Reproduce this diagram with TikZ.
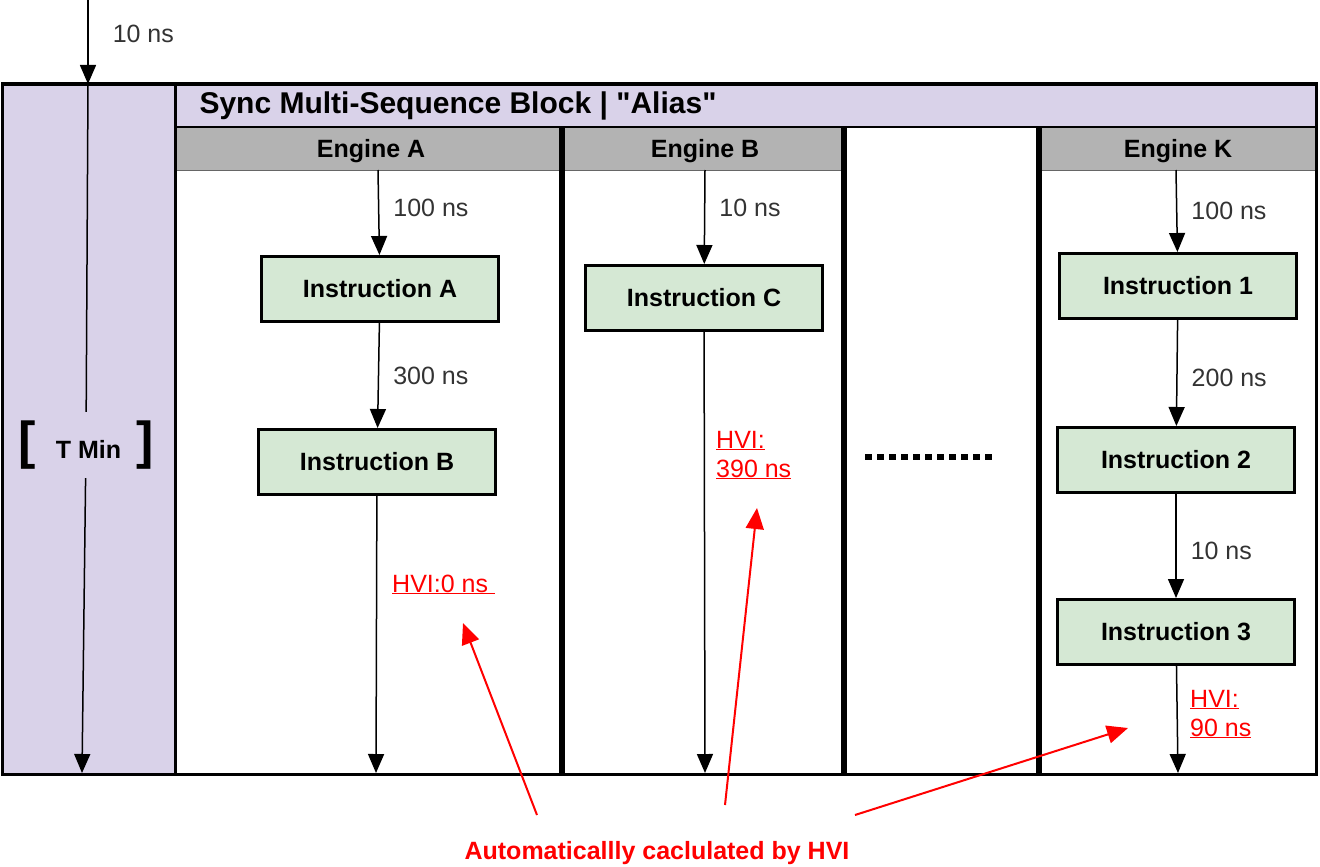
\documentclass[tikz,border=0pt]{standalone}
\usepackage{fontspec}
\setmainfont{Liberation Sans}[Ligatures=TeXOff]
\usetikzlibrary{arrows.meta, positioning}
\definecolor{aliaspurple}{HTML}{D9D2E9}
\definecolor{enginegray}{HTML}{B3B3B3}
\definecolor{instrgreen}{HTML}{D5E8D4}
\definecolor{hvired}{HTML}{FF0000}
\tikzset{
    >={Triangle[length=19pt,width=16pt]},
    every node/.style={font=\fontsize{25}{30}\selectfont},
    instr/.style={draw, line width=3pt, fill=instrgreen, minimum width=237pt, minimum height=65pt, font=\bfseries\fontsize{25}{30}\selectfont},
    engine/.style={font=\bfseries\fontsize{25}{30}\selectfont},
    header/.style={fill=enginegray, draw=black!60, line width=1pt},
    delay/.style={right=14pt, inner sep=0pt, text=black!80},
    hvi/.style={anchor=base west, align=left, inner sep=0pt, text=hvired, font=\fontsize{25}{29}\selectfont},
    flow/.style={->, line width=1.5pt},
    note/.style={-{Triangle[length=21pt,width=18pt]}, draw=hvired, line width=2pt},
    separator/.style={line width=6pt},
}

\begin{document}
\begin{tikzpicture}[x=1pt, y=-1pt]
    \useasboundingbox (0,0) rectangle (1320,867);

    % block frame
    \fill[aliaspurple] (2,84) rectangle (175,774);
    \fill[aliaspurple] (175,84) rectangle (1316,127);
    \filldraw[header] (175,127) rectangle (562,170);
    \filldraw[header] (562,127) rectangle (844,170);
    \filldraw[header] (1039,127) rectangle (1316,170);
    \draw[line width=2.5pt] (175,127) -- (1316,127);
    \draw[line width=3pt] (175,84) -- (175,774);
    \draw[separator] (562,127) -- (562,774);
    \draw[separator] (844,127) -- (844,774);
    \draw[separator] (1039,127) -- (1039,774);
    \draw[line width=3pt] (2,84) rectangle (1316,774);

    \node[engine, anchor=west, font=\bfseries\fontsize{30}{34}\selectfont] (title) at (196,106) {Sync Multi-Sequence Block | "Alias"};
    \node[engine] (enga) at (371,151) {Engine A};
    \node[engine] (engb) at (705,151) {Engine B};
    \node[engine] (engk) at (1178,151) {Engine K};

    % T Min
    \coordinate (start) at (88,0);
    \coordinate (ltop) at (88,84);
    \coordinate (lbot) at (82,773);
    \node[inner sep=0pt, minimum height=66pt] (tmin) at (86,445)
        {{\bfseries\fontsize{52}{52}\selectfont[}\hspace{20pt}{\bfseries\fontsize{25}{28}\selectfont T Min}\hspace{15pt}{\bfseries\fontsize{52}{52}\selectfont]}};
    \draw[flow] (start) -- node[delay, right=24pt, pos=0.4]{10 ns} (ltop);
    \draw[line width=1.5pt] (ltop) -- (tmin);
    \draw[flow] (tmin) -- (lbot);

    % Engine A
    \coordinate (a0) at (378,170);
    \node[instr] (ia) at (380,289) {Instruction A};
    \node[instr] (ib) at (377,462) {Instruction B};
    \coordinate (aend) at (376,773);
    \draw[flow] (a0) -- node[delay, pos=0.45]{100 ns} (ia);
    \draw[flow] (ia) -- node[delay]{300 ns} (ib);
    \draw[flow] (ib) -- (aend);
    \node[hvi] (hvia) at (392,592) {\underline{HVI:0 ns }};

    % Engine B
    \coordinate (b0) at (705,170);
    \node[instr] (ic) at (704,298) {Instruction C};
    \coordinate (bend) at (705,773);
    \draw[flow] (b0) -- node[delay, pos=0.4]{10 ns} (ic);
    \draw[flow] (ic) -- (bend);
    \node[hvi] (hvib) at (716,477) {\underline{HVI:}\\\underline{390 ns}};

    % more engines
    \coordinate (dl) at (865,457);
    \coordinate (dr) at (995,457);
    \draw[line width=6pt, dash pattern=on 7pt off 5pt] (dl) -- (dr);

    % Engine K
    \coordinate (k0) at (1176,170);
    \node[instr] (i1) at (1178,286) {Instruction 1};
    \node[instr] (i2) at (1176,460) {Instruction 2};
    \node[instr] (i3) at (1176,632) {Instruction 3};
    \coordinate (kend) at (1178,773);
    \draw[flow] (k0) -- node[delay]{100 ns} (i1);
    \draw[flow] (i1) -- node[delay, pos=0.55]{200 ns} (i2);
    \draw[flow] (i2) -- node[delay, pos=0.55]{10 ns} (i3);
    \draw[flow] (i3) -- (kend);
    \node[hvi] (hvik) at (1190,736) {\underline{HVI:}\\\underline{90 ns}};

    % HVI notes
    \node[engine, text=hvired] (auto) at (657,853) {Automaticallly caclulated by HVI};
    \coordinate (na) at (537,815);
    \coordinate (ta) at (463,623);
    \coordinate (nb) at (725,805);
    \coordinate (tb) at (757,508);
    \coordinate (nk) at (855,815);
    \coordinate (tk) at (1128,728);
    \draw[note] (na) -- (ta);
    \draw[note] (nb) -- (tb);
    \draw[note] (nk) -- (tk);
\end{tikzpicture}
\end{document}
